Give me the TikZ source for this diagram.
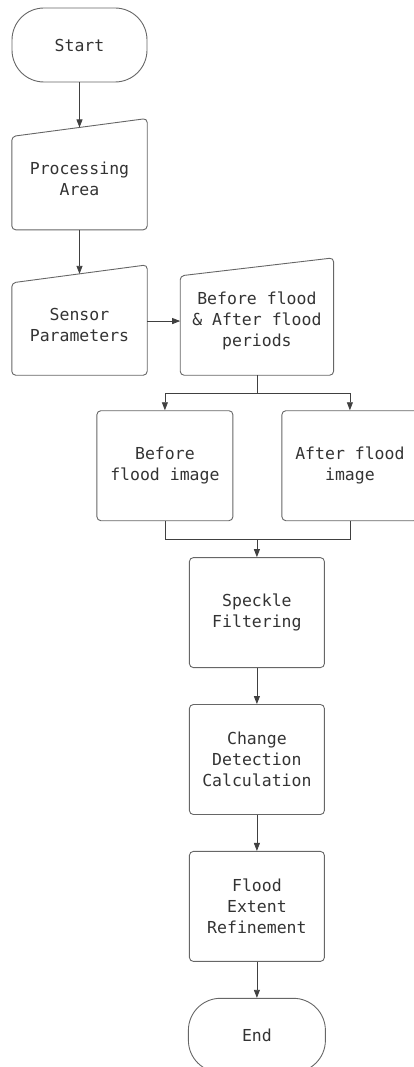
\documentclass[tikz,border=0pt]{standalone}
\usepackage{fontspec}
\setmonofont{DejaVu Sans Mono}
\usetikzlibrary{arrows.meta,positioning,calc}

\begin{document}
\begin{tikzpicture}[
  x=1pt, y=1pt,
  font=\ttfamily\fontsize{16.5}{21}\selectfont,
  text=black!80,
  line/.style={black!75, line width=0.8pt},
  arrow/.style={line, -{Triangle[length=8pt,width=6pt]}},
  terminal/.style={rectangle, draw=black!60, line width=0.9pt, rounded corners=32pt, minimum width=135pt, minimum height=74pt, inner sep=0pt},
  box/.style={rectangle, draw=black!60, line width=0.9pt, rounded corners=4pt, minimum width=136pt, minimum height=110pt, inner sep=0pt, align=center},
  manual/.style={rectangle, minimum width=135pt, inner sep=0pt, align=center,
    append after command={\pgfextra{\draw[black!60, line width=0.9pt, rounded corners=4pt]
      (\tikzlastnode.south west) -- ([yshift=-9pt]\tikzlastnode.north west)
      -- ([yshift=9pt]\tikzlastnode.north east) -- (\tikzlastnode.south east) -- cycle;}}}
]
  \useasboundingbox (0,0) rectangle (414,-1067);
  \clip (0,0) rectangle (414,-1067);

  % Inputs
  \node[terminal] (start) at (79.5,-45) {Start};
  \node[manual, minimum height=102pt, below=45pt of start] (area) {Processing\\Area};
  \node[manual, minimum height=101pt, below=44pt of area] (sensor) {Sensor\\Parameters};
  \node[manual, minimum width=153pt, minimum height=108pt, right=33pt of sensor.south east, anchor=south west] (periods) {Before flood\\\& After flood\\periods};

  % Images
  \node[box, below=35pt of periods, xshift=-92pt] (before) {Before\\flood image};
  \node[box, below=35pt of periods, xshift=93pt] (after) {After flood\\image};
  \coordinate (merge) at ($(before.south -| periods.south)+(0,-18)$);

  % Processing chain
  \node[box, minimum width=135pt, below=18pt of merge] (speckle) {Speckle\\Filtering};
  \node[box, minimum width=135pt, below=36pt of speckle] (change) {Change\\Detection\\Calculation};
  \node[box, minimum width=135pt, below=36pt of change] (extent) {Flood\\Extent\\Refinement};
  \node[terminal, minimum width=137pt, below=36pt of extent] (finish) {End};

  \draw[arrow] (start) -- (area);
  \draw[arrow] (area) -- (sensor);
  \draw[arrow] (periods.west -| sensor.east) -- (periods.west);
  \draw[arrow] (periods.south) -- ++(0,-18) -| (before.north);
  \draw[arrow] (periods.south) -- ++(0,-18) -| (after.north);
  \draw[line] (before.south) |- (merge);
  \draw[line] (after.south) |- (merge);
  \draw[arrow] (merge) -- (speckle);
  \draw[arrow] (speckle) -- (change);
  \draw[arrow] (change) -- (extent);
  \draw[arrow] (extent) -- (finish);
\end{tikzpicture}
\end{document}
